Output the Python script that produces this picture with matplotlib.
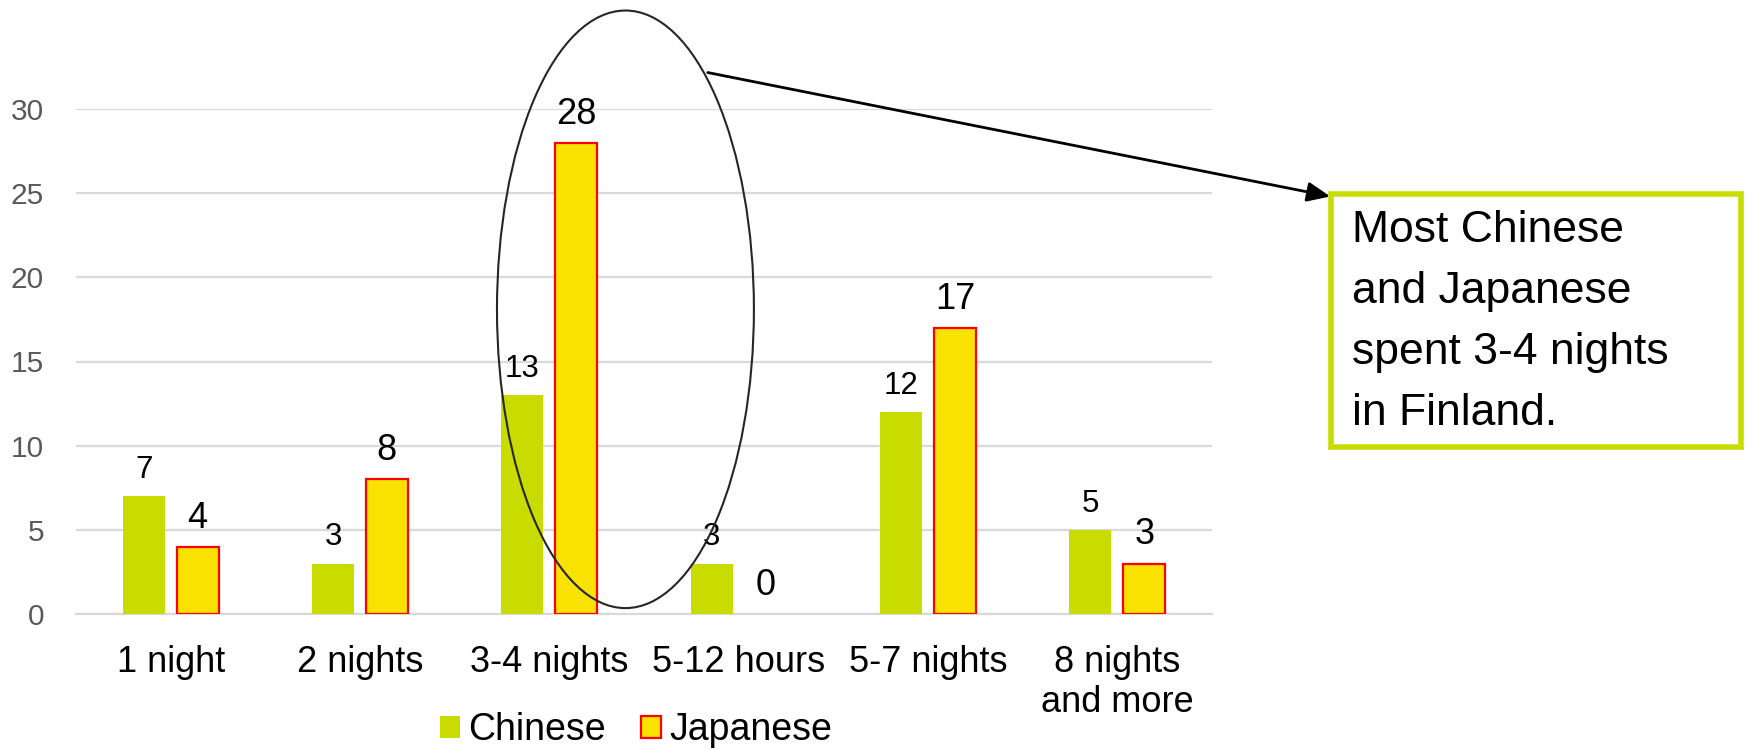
import matplotlib
matplotlib.use("Agg")
import matplotlib.pyplot as plt
from matplotlib.patches import Ellipse, Patch, Rectangle, FancyArrowPatch
import numpy as np

plt.rcParams['font.family'] = ['Liberation Sans', 'DejaVu Sans']

categories = ["1 night", "2 nights", "3-4 nights", "5-12 hours", "5-7 nights", "8 nights\nand more"]
chinese = [7, 3, 13, 3, 12, 5]
japanese = [4, 8, 28, 0, 17, 3]
yticks = [0, 5, 10, 15, 20, 25, 30]
note = "Most Chinese\nand Japanese\nspent 3-4 nights\nin Finland."

GREEN = "#C8DC00"
YELLOW = "#F9E100"
RED = "#FF0000"
GRID = "#D9D9D9"

fig = plt.figure(figsize=(17.48, 7.49), dpi=100)
ax = fig.add_axes([76 / 1748, 1 - 614 / 749, (1212 - 76) / 1748, (614 - 109) / 749])

x = np.arange(len(categories))
w = 0.222
off = 0.142
ax.bar(x - off, chinese, w, color=GREEN, edgecolor="none", zorder=3)
jp_edges = [RED if v > 0 else "none" for v in japanese]
ax.bar(x + off, japanese, w, color=YELLOW, edgecolor=jp_edges, linewidth=1.6, zorder=3)

for xi, v in zip(x, chinese):
    ax.annotate(str(v), (xi - off, v), xytext=(0, 8), textcoords="offset points",
                ha="center", va="bottom", fontsize=22.5, color="black", zorder=5,
                annotation_clip=False)
for xi, v in zip(x, japanese):
    ax.annotate(str(v), (xi + off, v), xytext=(0, 8), textcoords="offset points",
                ha="center", va="bottom", fontsize=26, color="black", zorder=5,
                annotation_clip=False)

ax.set_xlim(-0.5, len(categories) - 0.5)
ax.set_ylim(0, 30)
ax.set_yticks(yticks)
ax.set_xticks(x)
ax.set_xticklabels(categories, fontsize=26, color="black", linespacing=1.2)
ax.tick_params(axis="y", labelsize=21.5, labelcolor="#595959", length=0, pad=23)
ax.tick_params(axis="x", length=0, pad=22)
ax.grid(axis="y", color=GRID, linewidth=1.6, zorder=0)
for s in ["top", "right", "left"]:
    ax.spines[s].set_visible(False)
ax.spines["bottom"].set_color(GRID)
ax.spines["bottom"].set_linewidth(1.6)

# Highlight around the 3-4 nights group
ell = Ellipse((2.402, 18.1), 1.357, 35.5, fill=False, edgecolor="#262626",
              linewidth=1.5, clip_on=False, zorder=6)
ax.add_patch(ell)

# Callout box with arrow from the ellipse
fig.text(1352 / 1748, 1 - 322 / 749, note, fontsize=32, va="center", ha="left",
         linespacing=1.62, color="black")
rect = Rectangle((1331 / 1748, 1 - 447 / 749), (1741 - 1331) / 1748, (447 - 194) / 749,
                 transform=fig.transFigure, fill=False, edgecolor=GREEN, linewidth=4)
fig.patches.append(rect)
fig.add_artist(FancyArrowPatch(
    (705 / 1748, 1 - 72 / 749), (1333 / 1748, 1 - 197 / 749),
    transform=fig.transFigure, arrowstyle="-|>,head_length=14,head_width=6",
    mutation_scale=1, color="black", linewidth=2))

handles = [Patch(facecolor=GREEN, edgecolor="none"),
           Patch(facecolor=YELLOW, edgecolor=RED, linewidth=1.6)]
fig.legend(handles, ["Chinese", "Japanese"], loc="center", bbox_to_anchor=(636 / 1748, 1 - 730 / 749),
           ncol=2, frameon=False, fontsize=27, handlelength=0.52, handleheight=0.52,
           handletextpad=0.22, columnspacing=0.95, borderpad=0)

fig.savefig("out.png", dpi=100)
